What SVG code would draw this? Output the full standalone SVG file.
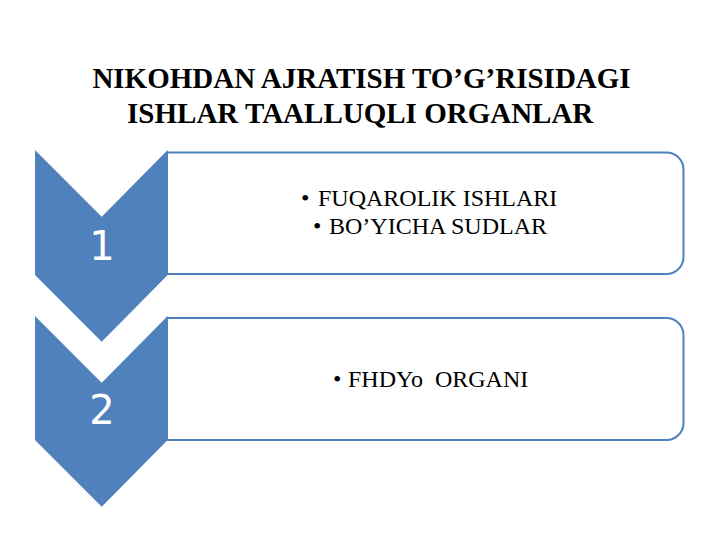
<svg xmlns="http://www.w3.org/2000/svg" width="720" height="540" viewBox="0 0 720 540">
  <style>
    .title { font-family: 'Liberation Serif', 'DejaVu Serif', serif; font-size: 29px; font-weight: bold; fill: #000; text-anchor: middle; }
    .item { font-family: 'Liberation Serif', 'DejaVu Serif', serif; font-size: 24px; fill: #000; }
    .num { font-family: 'DejaVu Sans', 'Liberation Sans', sans-serif; font-size: 40px; fill: #fff; text-anchor: middle; }
    .box { fill: #fff; stroke: #4F81BD; stroke-width: 2; }
    .chev { fill: #4F81BD; }
  </style>
  <rect width="720" height="540" fill="#fff"/>
  <g id="title" font-family="Liberation Serif, DejaVu Serif, serif">
    <text class="title" x="361.5" y="88.3">NIKOHDAN AJRATISH TO’G’RISIDAGI</text>
    <text class="title" x="360.2" y="123.3">ISHLAR TAALLUQLI ORGANLAR</text>
  </g>
  <g id="connectors"></g>
  <g id="item1">
    <path class="box" d="M167,152.5 H666.5 A17,17 0 0 1 683.5,169.5 V257 A17,17 0 0 1 666.5,274 H167 Z"/>
    <path class="chev" d="M35,150 L101.7,216.7 L167.7,150 L167.7,275 L101.7,341.7 L35,275 Z"/>
    <text class="num" x="102" y="260">1</text>
    <text class="item" x="301" y="206">•</text>
    <text class="item" x="318" y="206">FUQAROLIK ISHLARI</text>
    <text class="item" x="313" y="234.3">•</text>
    <text class="item" x="329" y="234.3">BO’YICHA SUDLAR</text>
  </g>
  <g id="item2">
    <path class="box" d="M167,318 H666.5 A17,17 0 0 1 683.5,335 V423 A17,17 0 0 1 666.5,440 H167 Z"/>
    <path class="chev" d="M35,316 L101.7,382.7 L167.7,316 L167.7,440 L101.7,506.7 L35,440 Z"/>
    <text class="num" x="102" y="423.5">2</text>
    <text class="item" x="333" y="386.7">•</text>
    <text class="item" x="348" y="386.7" xml:space="preserve">FHDYo  ORGANI</text>
  </g>
</svg>
